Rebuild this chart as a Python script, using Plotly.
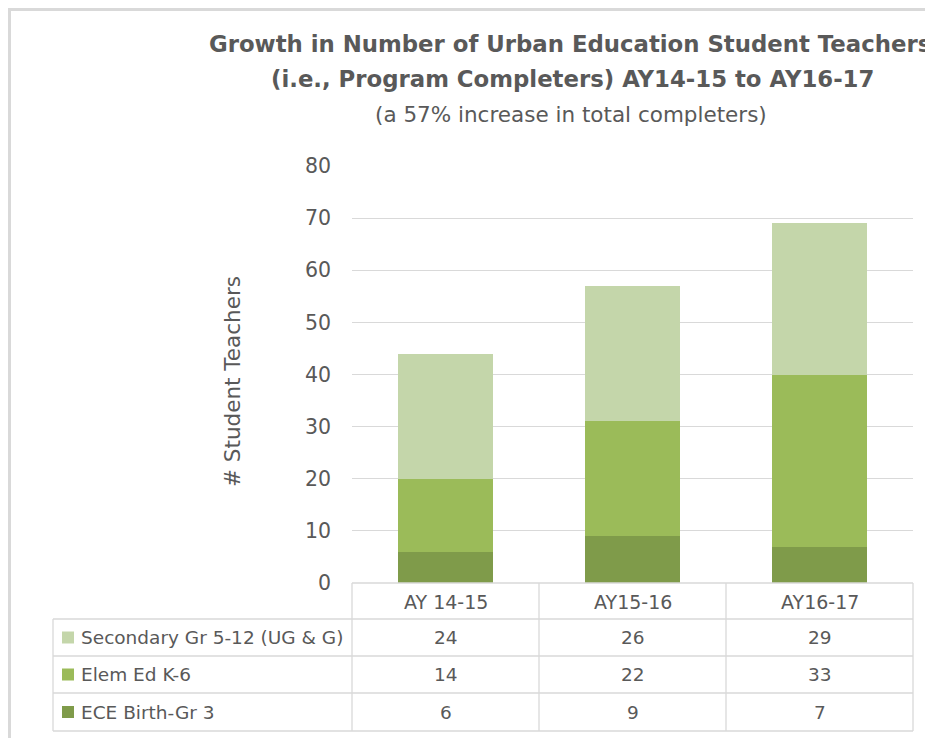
import plotly.graph_objects as go

categories = ["AY 14-15", "AY15-16", "AY16-17"]
series_names = ["Secondary Gr 5-12 (UG & G)", "Elem Ed K-6", "ECE Birth-Gr 3"]
secondary = [24, 26, 29]
elem = [14, 22, 33]
ece = [6, 9, 7]
y_ticks = [0, 10, 20, 30, 40, 50, 60, 70, 80]

colors = {"ECE Birth-Gr 3": "#7F9B4A", "Elem Ed K-6": "#9BBB59", "Secondary Gr 5-12 (UG & G)": "#C4D6AA"}
values = {"Secondary Gr 5-12 (UG & G)": secondary, "Elem Ed K-6": elem, "ECE Birth-Gr 3": ece}

OFF = 8  # page body margin
W, H = 933 - OFF, 738 - OFF
ML, MR, MT, MB = 352 - OFF, 20, 166 - OFF, 155
PW = W - ML - MR
PH = H - MT - MB
FONT = "DejaVu Sans"
TXT = "#595959"
GRID = "#D9D9D9"

def px(x):
    # x given in page pixels
    return (x - OFF - ML) / PW

def py(y):
    # y given in page pixels
    return (H - MB - (y - OFF)) / PH

fig = go.Figure()
for name in ["ECE Birth-Gr 3", "Elem Ed K-6", "Secondary Gr 5-12 (UG & G)"]:
    fig.add_trace(go.Bar(x=categories, y=values[name], name=name,
                         marker=dict(color=colors[name], line=dict(width=0)),
                         showlegend=False))

shapes = []
annotations = []

# table lines (page coords)
row_lines = [583, 619, 656, 693, 731]
for i, yl in enumerate(row_lines):
    x0 = 352 if i == 0 else 53
    shapes.append(dict(type="line", xref="paper", yref="paper", x0=px(x0), x1=px(913),
                       y0=py(yl), y1=py(yl), line=dict(color=GRID, width=1.3)))
shapes.append(dict(type="line", xref="paper", yref="paper", x0=px(53), x1=px(53),
                   y0=py(619), y1=py(731), line=dict(color=GRID, width=1.3)))
for xb in [0, 1, 2, 3]:
    shapes.append(dict(type="line", xref="paper", yref="paper", x0=xb / 3, x1=xb / 3,
                       y0=py(583), y1=py(731), line=dict(color=GRID, width=1.3)))

# header labels
for c in categories:
    annotations.append(dict(x=c, y=py(602), xref="x", yref="paper", text=c, showarrow=False,
                            font=dict(family=FONT, size=19, color=TXT), xanchor="center", yanchor="middle"))

row_centers = [637.5, 674.5, 712]
for name, yc in zip(series_names, row_centers):
    shapes.append(dict(type="rect", xref="paper", yref="paper", x0=px(62), x1=px(74),
                       y0=py(yc + 6), y1=py(yc - 6), fillcolor=colors[name], line=dict(width=0)))
    annotations.append(dict(x=px(79), y=py(yc), xref="paper", yref="paper", text=name, showarrow=False,
                            font=dict(family=FONT, size=18.5, color=TXT), xanchor="left", yanchor="middle"))
    for c, v in zip(categories, values[name]):
        annotations.append(dict(x=c, y=py(yc), xref="x", yref="paper", text=str(v), showarrow=False,
                                font=dict(family=FONT, size=18.5, color=TXT), xanchor="center", yanchor="middle"))

# titles
annotations.append(dict(x=px(570), y=py(44), xref="paper", yref="paper",
                        text="<b>Growth in Number of Urban Education Student Teachers</b>", showarrow=False,
                        font=dict(family=FONT, size=22.8, color=TXT), xanchor="center", yanchor="middle"))
annotations.append(dict(x=px(572), y=py(79), xref="paper", yref="paper",
                        text="<b>(i.e., Program Completers) AY14-15 to AY16-17</b>", showarrow=False,
                        font=dict(family=FONT, size=22.8, color=TXT), xanchor="center", yanchor="middle"))
annotations.append(dict(x=px(571), y=py(114), xref="paper", yref="paper",
                        text="(a 57% increase in total completers)", showarrow=False,
                        font=dict(family=FONT, size=21.5, color=TXT), xanchor="center", yanchor="middle"))
annotations.append(dict(x=px(232), y=py(382), xref="paper", yref="paper",
                        text="# Student Teachers", showarrow=False, textangle=-90,
                        font=dict(family=FONT, size=21.5, color=TXT), xanchor="center", yanchor="middle"))

# outer chart border
shapes.append(dict(type="rect", xref="paper", yref="paper", x0=px(9.5), x1=px(960),
                   y0=py(760), y1=py(9.5), line=dict(color=GRID, width=3), fillcolor="rgba(0,0,0,0)"))

fig.update_layout(
    width=W, height=H, autosize=False,
    margin=dict(l=ML, r=MR, t=MT, b=MB, pad=0),
    barmode="stack", bargap=0.487,
    plot_bgcolor="white", paper_bgcolor="white",
    shapes=shapes, annotations=annotations,
    xaxis=dict(showticklabels=False, showgrid=False, zeroline=False, showline=False, ticks=""),
    yaxis=dict(range=[0, 80], tickvals=y_ticks, showgrid=True, gridcolor=GRID, gridwidth=1.3,
               zeroline=False, showline=False, ticks="", ticklabelstandoff=20,
               tickfont=dict(family=FONT, size=20.5, color=TXT)),
)
fig.write_html("out.html")
